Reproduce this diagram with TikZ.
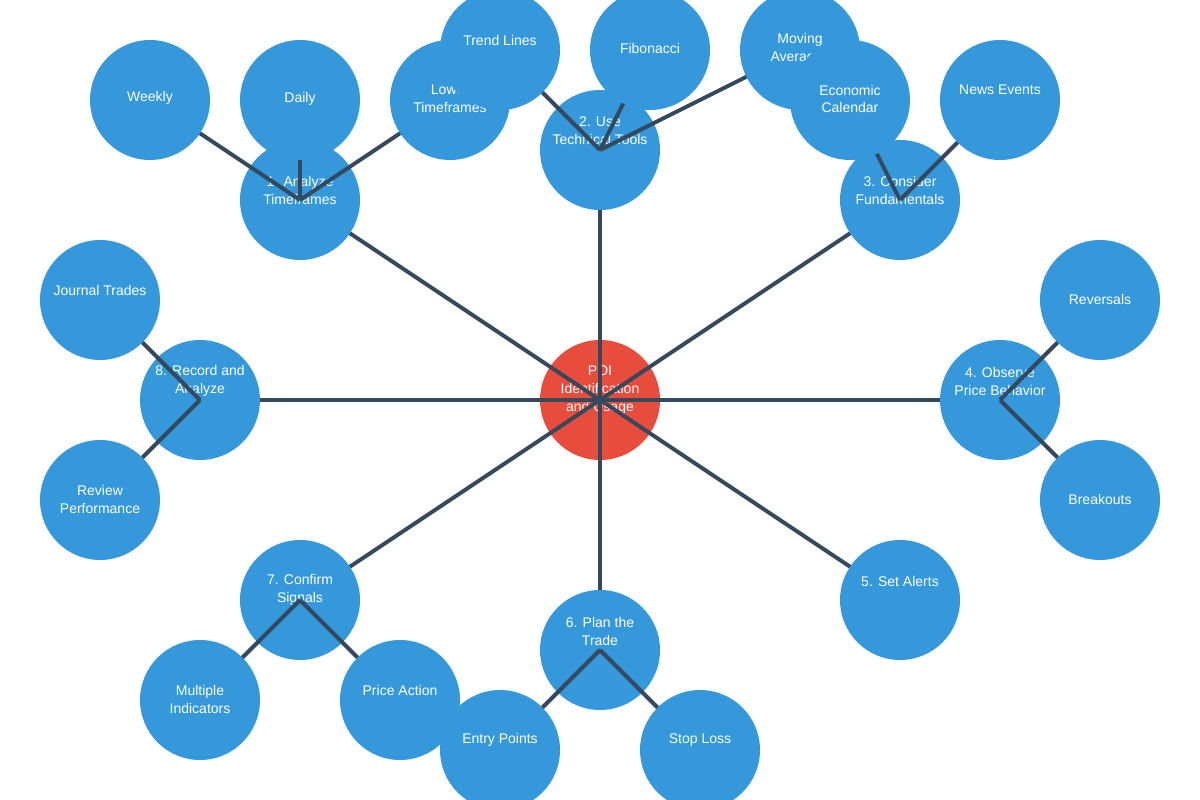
\documentclass[tikz,border=0pt]{standalone}
\usepackage{fontspec}
\setmainfont{Liberation Sans}
\definecolor{hubred}{HTML}{E74C3C}
\definecolor{bubblue}{HTML}{3498DB}
\definecolor{linkgray}{HTML}{34495E}

\begin{document}
\begin{tikzpicture}[x=0.02cm, y=-0.02cm, font=\fontsize{7.97}{10.24}\selectfont,
     bub/.style={circle, fill=bubblue, minimum size=2.4cm, inner sep=0pt},
     hub/.style={bub, fill=hubred},
     txt/.style={text=white, align=center, inner sep=0pt},
     link/.style={draw=linkgray, line width=0.08cm}]
  \useasboundingbox (0,0) rectangle (1200,800);
  % centres
  \coordinate (c0) at (600,400);
  \coordinate (c1) at (300,200);
  \coordinate (c11) at (150,100);
  \coordinate (c12) at (300,100);
  \coordinate (c13) at (450,100);
  \coordinate (c2) at (600,150);
  \coordinate (c21) at (500,50);
  \coordinate (c22) at (650,50);
  \coordinate (c23) at (800,50);
  \coordinate (c3) at (900,200);
  \coordinate (c31) at (850,100);
  \coordinate (c32) at (1000,100);
  \coordinate (c4) at (1000,400);
  \coordinate (c41) at (1100,300);
  \coordinate (c42) at (1100,500);
  \coordinate (c5) at (900,600);
  \coordinate (c6) at (600,650);
  \coordinate (c61) at (500,750);
  \coordinate (c62) at (700,750);
  \coordinate (c7) at (300,600);
  \coordinate (c71) at (200,700);
  \coordinate (c72) at (400,700);
  \coordinate (c8) at (200,400);
  \coordinate (c81) at (100,300);
  \coordinate (c82) at (100,500);

  \node[hub] (n0) at (c0) {};
  \node[txt, yshift=0.2cm] (t0) at (c0) {POI\\Identification\\and Usage};

  % 1
  \draw[link] (c0) -- (c1);
  \node[bub] (n1) at (c1) {};
  \node[txt, yshift=0.2cm] (t1) at (c1) {1. Analyze\\Timeframes};
  \draw[link] (c1) -- (c11);
  \node[bub] (n11) at (c11) {};
  \node[txt, yshift=0.04cm] (t11) at (c11) {Weekly};
  \draw[link] (c1) -- (c12);
  \node[bub] (n12) at (c12) {};
  \node[txt, yshift=0.02cm] (t12) at (c12) {Daily};
  \draw[link] (c1) -- (c13);
  \node[bub] (n13) at (c13) {};
  \node[txt, yshift=0.02cm] (t13) at (c13) {Lower\\Timeframes};

  % 2
  \draw[link] (c0) -- (c2);
  \node[bub] (n2) at (c2) {};
  \node[txt, yshift=0.38cm] (t2) at (c2) {2. Use\\Technical Tools};
  \draw[link] (c2) -- (c21);
  \node[bub] (n21) at (c21) {};
  \node[txt, yshift=0.2cm] (t21) at (c21) {Trend Lines};
  \draw[link] (c2) -- (c22);
  \node[bub] (n22) at (c22) {};
  \node[txt, yshift=0.04cm] (t22) at (c22) {Fibonacci};
  \draw[link] (c2) -- (c23);
  \node[bub] (n23) at (c23) {};
  \node[txt, yshift=0.02cm] (t23) at (c23) {Moving\\Averages};

  % 3
  \draw[link] (c0) -- (c3);
  \node[bub] (n3) at (c3) {};
  \node[txt, yshift=0.2cm] (t3) at (c3) {3. Consider\\Fundamentals};
  \draw[link] (c3) -- (c31);
  \node[bub] (n31) at (c31) {};
  \node[txt, yshift=0.02cm] (t31) at (c31) {Economic\\Calendar};
  \draw[link] (c3) -- (c32);
  \node[bub] (n32) at (c32) {};
  \node[txt, yshift=0.2cm] (t32) at (c32) {News Events};

  % 4
  \draw[link] (c0) -- (c4);
  \node[bub] (n4) at (c4) {};
  \node[txt, yshift=0.38cm] (t4) at (c4) {4. Observe\\Price Behavior};
  \draw[link] (c4) -- (c41);
  \node[bub] (n41) at (c41) {};
  \node[txt, yshift=0.02cm] (t41) at (c41) {Reversals};
  \draw[link] (c4) -- (c42);
  \node[bub] (n42) at (c42) {};
  \node[txt, yshift=0.02cm] (t42) at (c42) {Breakouts};

  % 5
  \draw[link] (c0) -- (c5);
  \node[bub] (n5) at (c5) {};
  \node[txt, yshift=0.38cm] (t5) at (c5) {5. Set Alerts};

  % 6
  \draw[link] (c0) -- (c6);
  \node[bub] (n6) at (c6) {};
  \node[txt, yshift=0.38cm] (t6) at (c6) {6. Plan the\\Trade};
  \draw[link] (c6) -- (c61);
  \node[bub] (n61) at (c61) {};
  \node[txt, yshift=0.2cm] (t61) at (c61) {Entry Points};
  \draw[link] (c6) -- (c62);
  \node[bub] (n62) at (c62) {};
  \node[txt, yshift=0.2cm] (t62) at (c62) {Stop Loss};

  % 7
  \draw[link] (c0) -- (c7);
  \node[bub] (n7) at (c7) {};
  \node[txt, yshift=0.2cm] (t7) at (c7) {7. Confirm\\Signals};
  \draw[link] (c7) -- (c71);
  \node[bub] (n71) at (c71) {};
  \node[txt, yshift=0.02cm] (t71) at (c71) {Multiple\\Indicators};
  \draw[link] (c7) -- (c72);
  \node[bub] (n72) at (c72) {};
  \node[txt, yshift=0.2cm] (t72) at (c72) {Price Action};

  % 8
  \draw[link] (c0) -- (c8);
  \node[bub] (n8) at (c8) {};
  \node[txt, yshift=0.38cm] (t8) at (c8) {8. Record and\\Analyze};
  \draw[link] (c8) -- (c81);
  \node[bub] (n81) at (c81) {};
  \node[txt, yshift=0.2cm] (t81) at (c81) {Journal Trades};
  \draw[link] (c8) -- (c82);
  \node[bub] (n82) at (c82) {};
  \node[txt, yshift=0.02cm] (t82) at (c82) {Review\\Performance};
\end{tikzpicture}
\end{document}
